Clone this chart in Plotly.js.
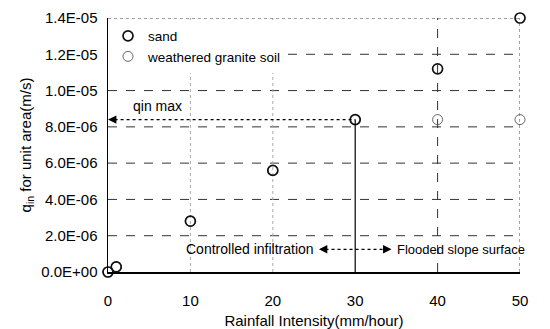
<!DOCTYPE html>
<html><head><meta charset="utf-8">
<script src="https://cdn.plot.ly/plotly-3.0.1.min.js"></script>
<style>html,body{margin:0;padding:0;background:#fff}#c{width:550px;height:329px}</style>
</head><body><div id="c"></div>
<script>
const rainfall = [0, 1, 10, 20, 30, 40, 50];
const sand = [0, 2.8e-7, 2.8e-6, 5.6e-6, 8.4e-6, 1.12e-5, 1.4e-5];
const granite = [0, 2.8e-7, 2.8e-6, 5.6e-6, 8.4e-6, 8.4e-6, 8.4e-6];
const yTickVals = [0, 2e-6, 4e-6, 6e-6, 8e-6, 1e-5, 1.2e-5, 1.4e-5];
const yTickText = ["0.0E+00","2.0E-06","4.0E-06","6.0E-06","8.0E-06","1.0E-05","1.2E-05","1.4E-05"];
const xTickVals = [0, 10, 20, 30, 40, 50];

const qinMax = Math.max(...granite);
const xBreak = 30;
const F = "Liberation Sans, Arial, sans-serif";

const traces = [
  {x: rainfall, y: granite, name: "weathered granite soil", mode: "markers", type: "scatter", cliponaxis: false,
   marker: {symbol: "circle-open", size: 10, color: "#666", line: {width: 1}}},
  {x: rainfall, y: sand, name: "sand", mode: "markers", type: "scatter", cliponaxis: false,
   marker: {symbol: "circle-open", size: 10, color: "#111", line: {width: 1.7}}}
];

const shapes = [];
yTickVals.slice(1, -1).forEach(v => shapes.push({type: "line", xref: "x", yref: "y", x0: 0, x1: 50, y0: v, y1: v,
  line: {color: "#333", width: 1, dash: "dash"}, layer: "below"}));
[10, 20].forEach(v => shapes.push({type: "line", xref: "x", yref: "y", x0: v, x1: v, y0: 0, y1: 1.4e-5,
  line: {color: "#aaa", width: 1, dash: "dot"}, layer: "below"}));
shapes.push({type: "line", xref: "x", yref: "y", x0: 40, x1: 40, y0: 0, y1: 1.4e-5, line: {color: "#333", width: 1, dash: "dash"}, layer: "below"});
shapes.push({type: "line", xref: "x", yref: "y", x0: 50, x1: 50, y0: 0, y1: 1.4e-5, line: {color: "#444", width: 1, dash: "dot"}, layer: "below"});
shapes.push({type: "line", xref: "x", yref: "y", x0: 0, x1: 50, y0: 1.4e-5, y1: 1.4e-5, line: {color: "#444", width: 1, dash: "dot"}, layer: "below"});
shapes.push({type: "line", xref: "x", yref: "y", x0: xBreak, x1: xBreak, y0: 0, y1: qinMax, line: {color: "#000", width: 1.2}});
// dotted qin max line
shapes.push({type: "line", xref: "x", yref: "y", x0: 0.8, x1: xBreak, y0: qinMax, y1: qinMax, line: {color: "#000", width: 1.2, dash: "dot"}});
// dotted regime arrow
const arrowY = 1.25e-6, arrowL = 25.6, arrowR = 34.4;
shapes.push({type: "line", xref: "x", yref: "y", x0: arrowL + 0.8, x1: arrowR - 0.8, y0: arrowY, y1: arrowY, line: {color: "#000", width: 1.2, dash: "dot"}});

const head = (x, y, ax) => ({x: x, y: y, ax: ax, ay: 0, xref: "x", yref: "y", text: "", showarrow: true,
  arrowhead: 2, arrowsize: 1.4, arrowwidth: 1.2, arrowcolor: "#000", standoff: 0});
const annotations = [
  head(0, qinMax, 10),
  head(arrowL, arrowY, 10),
  head(arrowR, arrowY, -10),
  {x: 6, y: 9.15e-6, xref: "x", yref: "y", text: "qin max", showarrow: false, font: {family: F, size: 14, color: "#000"}},
  {x: arrowL - 0.4, y: arrowY, xref: "x", yref: "y", text: "Controlled infiltration", xanchor: "right", showarrow: false, font: {family: F, size: 14, color: "#000"}},
  {x: arrowR + 0.4, y: arrowY, xref: "x", yref: "y", text: "Flooded slope surface", xanchor: "left", showarrow: false, font: {family: F, size: 13, color: "#000"}}
];

const layout = {
  width: 550, height: 329,
  margin: {l: 108, r: 30, t: 18, b: 57},
  paper_bgcolor: "#fff", plot_bgcolor: "#fff",
  font: {family: F, size: 14, color: "#000"},
  showlegend: true,
  legend: {x: 0.0, y: 0.99, xanchor: "left", yanchor: "top", bgcolor: "#fff", traceorder: "reversed",
    font: {family: F, size: 13.5}, tracegroupgap: 0},
  xaxis: {range: [0, 50], tickvals: xTickVals, showgrid: false, zeroline: false, showline: true, linecolor: "#000", linewidth: 1.5,
    ticks: "", ticklabelstandoff: 14, tickfont: {family: F, size: 15}, title: {text: "Rainfall Intensity(mm/hour)", font: {family: F, size: 15}, standoff: 9}},
  yaxis: {range: [0, 1.4e-5], tickvals: yTickVals, ticktext: yTickText, showgrid: false, zeroline: false, showline: true, linecolor: "#000", linewidth: 1.5,
    ticks: "", ticklabelstandoff: 6, tickfont: {family: F, size: 15}, title: {text: "q<sub>in</sub> for unit area(m/s)", font: {family: F, size: 15}, standoff: 6}},
  shapes: shapes, annotations: annotations
};
Plotly.newPlot("c", traces, layout, {displayModeBar: false, staticPlot: true});
</script></body></html>
